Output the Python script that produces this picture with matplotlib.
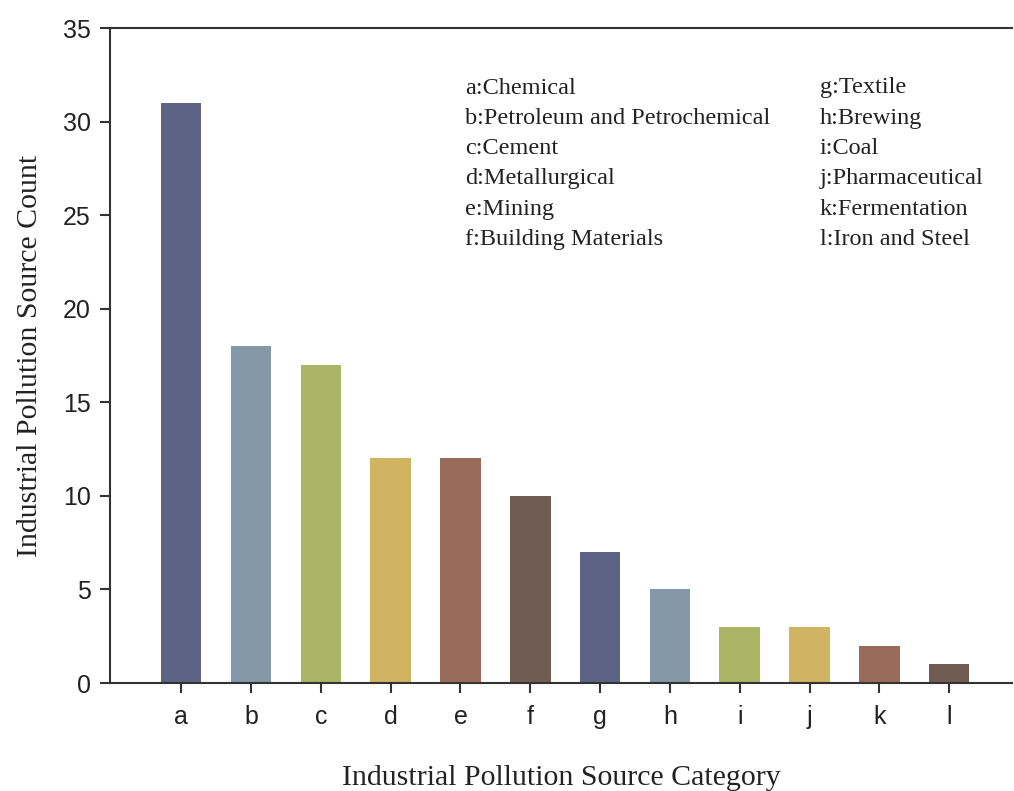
import matplotlib
matplotlib.use("Agg")
import matplotlib.pyplot as plt

categories = ["a", "b", "c", "d", "e", "f", "g", "h", "i", "j", "k", "l"]
counts = [31, 18, 17, 12, 12, 10, 7, 5, 3, 3, 2, 1]
names = ["Chemical", "Petroleum and Petrochemical", "Cement", "Metallurgical",
         "Mining", "Building Materials", "Textile", "Brewing", "Coal",
         "Pharmaceutical", "Fermentation", "Iron and Steel"]
palette = ["#5c6384", "#8498aa", "#a9b464", "#d0b462", "#9a6b5a", "#705c52"]
colors = [palette[i % len(palette)] for i in range(len(categories))]
yticks = [0, 5, 10, 15, 20, 25, 30, 35]

fig = plt.figure(figsize=(10.14, 7.91), dpi=100)
ax = fig.add_axes([0.1085, 0.1365, 0.8895, 0.8281])

x = list(range(len(categories)))
ax.bar(x, counts, width=0.58, color=colors, zorder=2)

ax.set_xlim(-1.02, 11.9)
ax.set_ylim(0, 35)
ax.set_yticks(yticks)
ax.set_xticks(x)
ax.set_xticklabels(categories)

ax.spines["right"].set_visible(False)
for s in ["left", "bottom", "top"]:
    ax.spines[s].set_linewidth(1.5)
    ax.spines[s].set_color("#333333")

ax.tick_params(axis="both", direction="out", length=7, width=1.5, color="#333333",
               labelsize=18, labelcolor="#222222")
ax.tick_params(axis="x", pad=9)
ax.tick_params(axis="y", pad=7)
ax.tick_params(top=False)
for lbl in ax.get_xticklabels() + ax.get_yticklabels():
    lbl.set_family("Liberation Sans")

ax.set_xlabel("Industrial Pollution Source Category", family="Liberation Serif",
              fontsize=21.5, color="#222222", labelpad=26)
ax.set_ylabel("Industrial Pollution Source Count", family="Liberation Serif",
              fontsize=21.5, color="#222222", labelpad=14)

left_x, right_x = 465, 820
y0, dy = 88, 30.3
for i, (c, n) in enumerate(zip(categories, names)):
    col = i // 6
    row = i % 6
    px = left_x if col == 0 else right_x
    py = y0 + row * dy
    fig.text(px / 1014, 1 - py / 791, f"{c}:{n}", family="Liberation Serif",
             fontsize=17.5, color="#222222", ha="left", va="center")

fig.savefig("out.png", dpi=100)
